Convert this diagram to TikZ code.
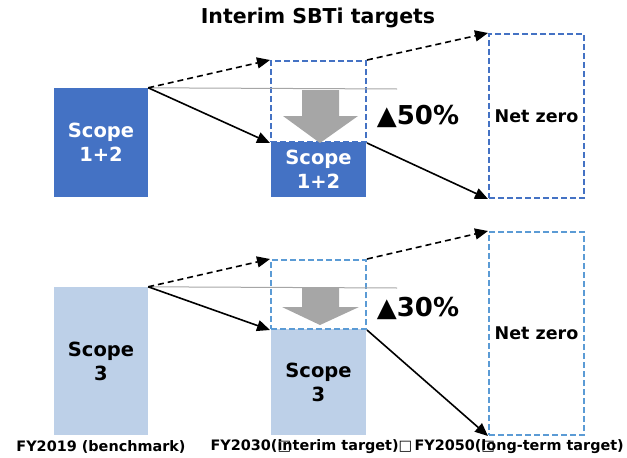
\documentclass[tikz,border=0pt]{standalone}
\usepackage{fontspec}
\setmainfont{DejaVu Sans}
\usetikzlibrary{arrows.meta}
\definecolor{scopedark}{HTML}{4472C4}
\definecolor{scopelight}{HTML}{BDD0E8}
\definecolor{targetline}{HTML}{5B9BD5}
\definecolor{cutgray}{HTML}{A6A6A6}
\newcommand{\tofu}{\rlap{\fontspec{DejaVu Sans}\mdseries □}}
\tikzset{
  x=1pt, y=-1pt,
  bar/.style={rectangle, inner sep=0pt, minimum width=95pt, align=center,
    font=\fontsize{19.5}{24}\selectfont\bfseries},
  darkbar/.style={bar, fill=scopedark, text=white},
  lightbar/.style={bar, fill=scopelight, text=black},
  goalbox/.style={rectangle, inner sep=0pt, minimum width=95pt, draw, line width=2pt,
    dash pattern=on 6pt off 3pt, align=center, font=\fontsize{17.5}{21}\selectfont\bfseries},
  link/.style={line width=1.6pt, -{Triangle[length=13pt,width=11pt]}},
  dashlink/.style={link, dash pattern=on 6pt off 4pt},
  baseline/.style={draw=cutgray, line width=1pt},
  pct/.style={font=\fontsize{26}{30}\selectfont\bfseries},
  caption/.style={font=\fontsize{14.4}{17}\selectfont\bfseries, inner sep=0pt}
}
\begin{document}
\begin{tikzpicture}
\useasboundingbox (0,0) rectangle (627,458);

\node[font=\fontsize{20.5}{24}\selectfont\bfseries] (title) at (318,18) {Interim SBTi targets};

% Scope 1+2 row
\node[darkbar, minimum width=94pt, minimum height=109pt] (a1) at (101,142.5) {Scope\\1+2};
\node[darkbar, minimum height=55pt] (c1) at (318.5,169.5) {Scope\\1+2};
\node[goalbox, draw=scopedark, minimum height=81pt] (b1) at (318.5,101.5) {};
\node[goalbox, draw=scopedark, minimum height=164pt] (n1) at (536.5,116) {Net zero};
\coordinate (g1) at (397,89);
\draw[baseline] (a1.north east) -- (g1);
\fill[cutgray] (302,90) -- (339,90) -- (339,116) -- (358,116) -- (320,143) -- (283,116) -- (302,116) -- cycle;
\node[pct] (p1) at (418,116) {▲50\%};
\draw[dashlink] (a1.north east) -- (b1.north west);
\draw[dashlink] (b1.north east) -- (n1.north west);
\draw[link] (a1.north east) -- (b1.south west);
\draw[link] (b1.south east) -- (n1.south west);

% Scope 3 row
\node[lightbar, minimum width=94pt, minimum height=148pt] (a2) at (101,361) {Scope\\3};
\node[lightbar, minimum height=106pt] (c2) at (318.5,382) {Scope\\3};
\node[goalbox, draw=targetline, minimum height=69pt] (b2) at (318.5,294.5) {};
\node[goalbox, draw=targetline, minimum height=203pt] (n2) at (536.5,333.5) {Net zero};
\coordinate (g2) at (397,288);
\draw[baseline] (a2.north east) -- (g2);
\fill[cutgray] (302,288) -- (339,288) -- (339,307) -- (359,307) -- (320,325) -- (282,307) -- (302,307) -- cycle;
\node[pct] (p2) at (418,308) {▲30\%};
\draw[dashlink] (a2.north east) -- (b2.north west);
\draw[dashlink] (b2.north east) -- (n2.north west);
\draw[link] (a2.north east) -- (b2.south west);
\draw[link] (b2.south east) -- (n2.south west);

% year captions
\node[caption] (y1) at (101,447) {FY2019 (benchmark)};
\node[caption, anchor=east] (y2) at (624,447) {FY2030(\tofu interim target)\tofu{}\hspace{0.75em} FY2050(\tofu long-term target)};
\end{tikzpicture}
\end{document}
